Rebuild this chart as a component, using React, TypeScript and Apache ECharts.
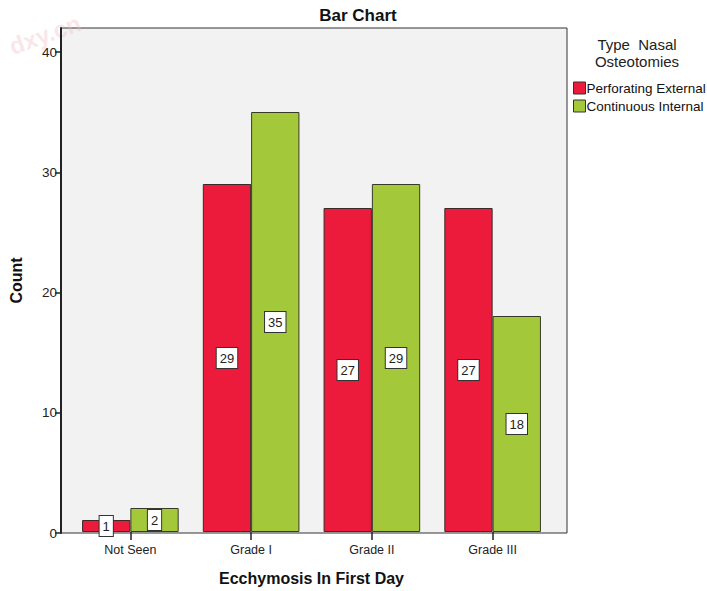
import React, { useEffect, useRef } from "react";
import * as echarts from "echarts";

const categories = ["Not Seen", "Grade I", "Grade II", "Grade III"];
const perforatingExternal = [1, 29, 27, 27];
const continuousInternal = [2, 35, 29, 18];
const yTicks = [0, 10, 20, 30, 40];
const seriesNames = ["Perforating External", "Continuous Internal"];

const FONT = "Arial, 'Liberation Sans', sans-serif";

export default function App() {
  const ref = useRef<HTMLDivElement>(null);
  useEffect(() => {
    document.body.style.margin = "0";
    const chart = echarts.init(ref.current!, null, { renderer: "svg" });
    const labelStyle = {
      show: true,
      position: "inside",
      color: "#222",
      fontSize: 13,
      fontFamily: FONT,
      backgroundColor: "#fff",
      borderColor: "#333",
      borderWidth: 1,
      padding: [4, 3, 3, 3],
    };
    chart.setOption({
      animation: false,
      backgroundColor: "#fff",
      textStyle: { fontFamily: FONT },
      title: {
        text: "Bar Chart",
        left: 353,
        textAlign: "center",
        top: 2,
        textStyle: { fontSize: 17, fontWeight: "bold", color: "#111", fontFamily: FONT },
      },
      legend: {
        orient: "vertical",
        left: 568,
        top: 76,
        itemWidth: 12,
        itemHeight: 12,
        itemGap: 4,
        icon: "rect",
        data: seriesNames,
        itemStyle: { borderColor: "#333", borderWidth: 1 },
        textStyle: { fontSize: 13.5, color: "#111", fontFamily: FONT, padding: [0, 0, 0, -4] },
      },
      graphic: [
        {
          type: "text",
          x: 637,
          y: 36,
          style: {
            text: "Type  Nasal\nOsteotomies",
            fill: "#222",
            font: `15px ${FONT}`,
            align: "center",
            lineHeight: 17,
          },
        },
        {
          type: "text",
          x: 6,
          y: 36,
          rotation: (20 * Math.PI) / 180,
          style: {
            text: "dxy.cn",
            fill: "rgba(240,185,195,0.35)",
            font: `bold 24px ${FONT}`,
          },
        },
      ],
      grid: [
        {
          left: 57,
          right: 140,
          top: 28,
          bottom: 58,
          show: true,
          backgroundColor: "#f2f2f2",
          borderColor: "#333",
          borderWidth: 1,
        },
        { left: 70, right: 154, top: 28, bottom: 58 },
      ],
      xAxis: [
        { type: "value", gridIndex: 0, show: false, min: 0, max: 1 },
        {
          type: "category",
          gridIndex: 1,
          data: categories,
          name: "Ecchymosis In First Day",
          nameLocation: "middle",
          nameGap: 38,
          nameTextStyle: { fontSize: 16, fontWeight: "bold", color: "#111", fontFamily: FONT },
          axisLine: { show: false },
          axisTick: { show: true, alignWithLabel: true, length: 8, lineStyle: { color: "#222", width: 1.5 } },
          axisLabel: { fontSize: 12.5, color: "#222", margin: 11, fontFamily: FONT },
        },
      ],
      yAxis: [
        {
          type: "value",
          gridIndex: 0,
          min: 0,
          max: 42,
          interval: 10,
          name: "Count",
          nameLocation: "middle",
          nameGap: 37,
          nameTextStyle: { fontSize: 16, fontWeight: "bold", color: "#111", fontFamily: FONT },
          axisLine: { show: true, lineStyle: { color: "#222", width: 2 } },
          axisTick: { show: true, length: 6, customValues: yTicks, lineStyle: { color: "#222", width: 1.5 } },
          axisLabel: { fontSize: 13.5, color: "#222", margin: 4, customValues: yTicks, fontFamily: FONT },
          splitLine: { show: false },
        },
        { type: "value", gridIndex: 1, min: 0, max: 42, show: false },
      ],
      series: [
        {
          name: seriesNames[0],
          type: "bar",
          xAxisIndex: 1,
          yAxisIndex: 1,
          data: perforatingExternal,
          barGap: "0%",
          barCategoryGap: "20%",
          itemStyle: { color: "#ec1a3b", borderColor: "#3a2a2a", borderWidth: 1 },
          label: labelStyle,
        },
        {
          name: seriesNames[1],
          type: "bar",
          xAxisIndex: 1,
          yAxisIndex: 1,
          data: continuousInternal,
          barGap: "0%",
          barCategoryGap: "20%",
          itemStyle: { color: "#a3c93a", borderColor: "#3a3a2a", borderWidth: 1 },
          label: labelStyle,
        },
        {
          type: "line",
          xAxisIndex: 0,
          yAxisIndex: 0,
          data: [],
          silent: true,
        },
      ],
    });
    return () => chart.dispose();
  }, []);
  return <div ref={ref} style={{ width: 707, height: 591 }} />;
}
